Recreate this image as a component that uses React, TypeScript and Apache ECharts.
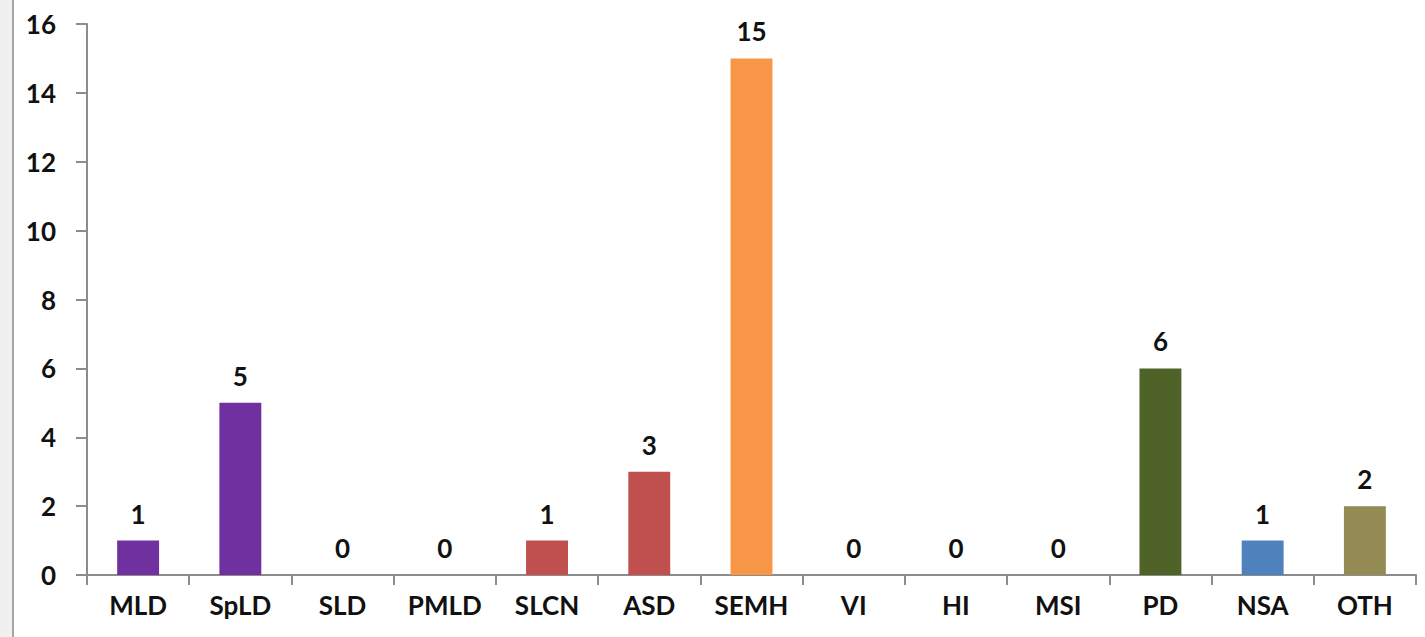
import React, { useEffect, useRef } from "react";
import * as echarts from "echarts";

const categories = ["MLD", "SpLD", "SLD", "PMLD", "SLCN", "ASD", "SEMH", "VI", "HI", "MSI", "PD", "NSA", "OTH"];
const counts = [1, 5, 0, 0, 1, 3, 15, 0, 0, 0, 6, 1, 2];
const barColors = ["#7030A0", "#7030A0", "#7030A0", "#7030A0", "#C0504D", "#C0504D", "#F79646", "#4BACC6", "#4BACC6", "#4BACC6", "#4F6228", "#4F81BD", "#948A54"];
const yTicks = { min: 0, max: 16, interval: 2 };

export default function App() {
  const ref = useRef<HTMLDivElement>(null);
  useEffect(() => {
    document.body.style.margin = "0";
    const chart = echarts.init(ref.current!, null, { renderer: "svg" });
    const font = "Lato, 'Noto Sans', sans-serif";
    chart.setOption({
      animation: false,
      backgroundColor: "#ffffff",
      graphic: [
        { type: "rect", shape: { x: 0, y: 0, width: 13, height: 637 }, style: { fill: "#f0f0f0" } },
        { type: "line", shape: { x1: 13, y1: 0, x2: 13, y2: 637 }, style: { stroke: "#a6a6a6", lineWidth: 2 } },
      ],
      grid: { left: 87, right: 9, top: 24, bottom: 62, containLabel: false },
      xAxis: {
        type: "category",
        data: categories,
        axisLine: { lineStyle: { color: "#8c8c8c", width: 2 } },
        axisTick: { show: true, length: 10, lineStyle: { color: "#8c8c8c", width: 2 } },
        axisLabel: { color: "#111", fontFamily: font, fontWeight: "bold", fontSize: 26, margin: 17 },
      },
      yAxis: {
        type: "value",
        min: yTicks.min,
        max: yTicks.max,
        interval: yTicks.interval,
        splitLine: { show: false },
        axisLine: { show: true, lineStyle: { color: "#8c8c8c", width: 2 } },
        axisTick: { show: true, length: 11, lineStyle: { color: "#8c8c8c", width: 2 } },
        axisLabel: { color: "#111", fontFamily: font, fontWeight: "bold", fontSize: 26, margin: 31 },
      },
      series: [
        {
          type: "bar",
          barWidth: "41%",
          data: counts.map((v, i) => ({ value: v, itemStyle: { color: barColors[i] } })),
          label: {
            show: true,
            position: "top",
            distance: 14,
            color: "#111",
            fontFamily: font,
            fontWeight: "bold",
            fontSize: 26,
          },
        },
      ],
    });
    return () => chart.dispose();
  }, []);
  return <div ref={ref} style={{ width: 1425, height: 637 }} />;
}
